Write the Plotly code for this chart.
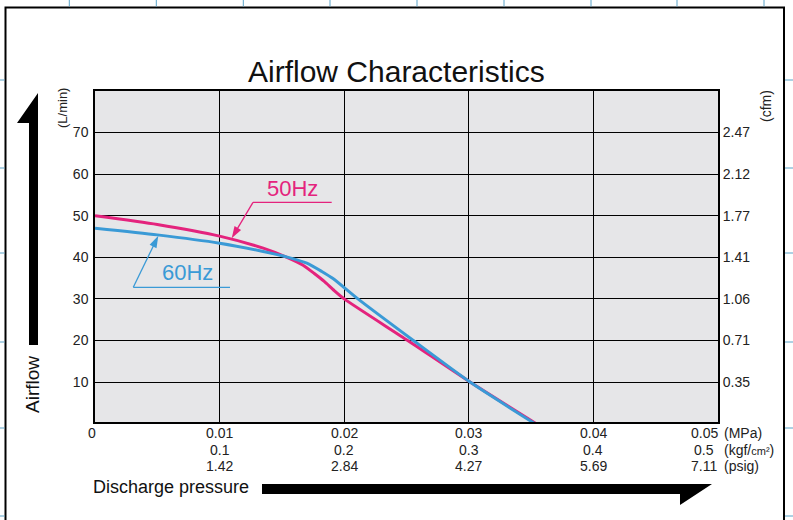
import math
import plotly.graph_objects as go

# ---------------- data ----------------
pressure_50 = [0, 0.005, 0.0100, 0.0135, 0.0154, 0.0167, 0.0176, 0.0184, 0.0192, 0.0200, 0.0251, 0.0301, 0.0354]
airflow_50 = [50.0, 47.9, 45.1, 42.2, 40.0, 38.1, 36.1, 34.2, 32.0, 30.0, 20.0, 10.0, 0.0]

pressure_60 = [0, 0.005, 0.0100, 0.0135, 0.0155, 0.0170, 0.0182, 0.0191, 0.0211, 0.02555, 0.0301, 0.0353]
airflow_60 = [47.0, 45.4, 43.4, 41.4, 40.0, 38.6, 36.6, 34.9, 30.0, 20.0, 10.0, 0.0]

y_ticks = [10, 20, 30, 40, 50, 60, 70]
cfm_labels = ["0.35", "0.71", "1.06", "1.41", "1.77", "2.12", "2.47"]

x_ticks = [0, 0.01, 0.02, 0.03, 0.04, 0.05]
mpa_labels = ["0", "0.01", "0.02", "0.03", "0.04", "0.05"]
kgf_labels = ["", "0.1", "0.2", "0.3", "0.4", "0.5"]
psig_labels = ["", "1.42", "2.84", "4.27", "5.69", "7.11"]

PINK = "#e4237d"
BLUE = "#3a9ad6"
FONT = "Liberation Sans, Arial, sans-serif"

W, H = 793, 520
L, R, T, B = 95, 75, 91, 98
PW, PH = W - L - R, H - T - B


def px(x):
    return (x - L) / PW


def py(y):
    return (H - B - y) / PH


fig = go.Figure()
fig.add_trace(go.Scatter(x=pressure_50, y=airflow_50, mode="lines",
                         line=dict(color=PINK, width=3, shape="spline", smoothing=0.6),
                         hoverinfo="skip", showlegend=False))
fig.add_trace(go.Scatter(x=pressure_60, y=airflow_60, mode="lines",
                         line=dict(color=BLUE, width=3, shape="spline", smoothing=0.6),
                         hoverinfo="skip", showlegend=False))
fig.add_trace(go.Scatter(x=[0], y=[None], yaxis="y2", mode="lines",
                         hoverinfo="skip", showlegend=False))

annotations = []

# bottom labels
rows = [(mpa_labels, 433), (kgf_labels, 450), (psig_labels, 466)]
for labels, ypix in rows:
    for xv, lab in zip(x_ticks, labels):
        if not lab:
            continue
        shift = 0
        if xv == 0:
            shift = -3
        elif xv == 0.05:
            shift = -14
        annotations.append(dict(x=xv, xref="x", y=py(ypix), yref="paper", text=lab,
                                showarrow=False, xanchor="center", yanchor="middle",
                                xshift=shift, font=dict(size=14, color="#222", family=FONT)))

units = [("(MPa)", 433), ("(kgf/<span style='font-size:11px'>cm²</span>)", 450), ("(psig)", 466)]
for txt, ypix in units:
    annotations.append(dict(x=px(722), xref="paper", y=py(ypix), yref="paper", text=txt,
                            showarrow=False, xanchor="left", yanchor="middle",
                            font=dict(size=14, color="#222", family=FONT)))

# title
annotations.append(dict(x=px(396), xref="paper", y=py(72), yref="paper",
                        text="Airflow Characteristics", showarrow=False,
                        xanchor="center", yanchor="middle",
                        font=dict(size=30, color="#111", family=FONT)))

# axis titles
annotations.append(dict(x=px(91), xref="paper", y=py(487), yref="paper",
                        text="Discharge pressure", showarrow=False,
                        xanchor="left", yanchor="middle",
                        font=dict(size=18, color="#111", family=FONT)))
annotations.append(dict(x=px(32), xref="paper", y=py(385), yref="paper",
                        text="Airflow", showarrow=False, textangle=-90,
                        xanchor="center", yanchor="middle",
                        font=dict(size=19, color="#111", family=FONT)))
annotations.append(dict(x=px(62), xref="paper", y=py(108), yref="paper",
                        text="(L/min)", showarrow=False, textangle=-90,
                        xanchor="center", yanchor="middle",
                        font=dict(size=13, color="#222", family=FONT)))
annotations.append(dict(x=px(766), xref="paper", y=py(106), yref="paper",
                        text="(cfm)", showarrow=False, textangle=-90,
                        xanchor="center", yanchor="middle",
                        font=dict(size=14, color="#222", family=FONT)))

# series labels
annotations.append(dict(x=px(292), xref="paper", y=py(188), yref="paper",
                        text="50Hz", showarrow=False, xanchor="center", yanchor="middle",
                        font=dict(size=22, color=PINK, family=FONT)))
annotations.append(dict(x=px(187), xref="paper", y=py(272), yref="paper",
                        text="60Hz", showarrow=False, xanchor="center", yanchor="middle",
                        font=dict(size=22, color=BLUE, family=FONT)))


def path(points):
    return "M " + " L ".join(f"{px(a):.5f},{py(b):.5f}" for a, b in points) + " Z"


shapes = []


def leader(h0, h1, elbow, tip, color):
    shapes.append(dict(type="line", xref="paper", yref="paper", x0=px(h0[0]), x1=px(h1[0]),
                       y0=py(h0[1]), y1=py(h1[1]), line=dict(color=color, width=1.3)))
    dx, dy = tip[0] - elbow[0], tip[1] - elbow[1]
    n = math.hypot(dx, dy)
    ux, uy = dx / n, dy / n
    hl, hw = 12.0, 3.8
    bx, by = tip[0] - hl * ux, tip[1] - hl * uy
    shapes.append(dict(type="line", xref="paper", yref="paper", x0=px(elbow[0]), x1=px(bx + 2 * ux),
                       y0=py(elbow[1]), y1=py(by + 2 * uy), line=dict(color=color, width=1.3)))
    pts = [tip, (bx - hw * uy, by + hw * ux), (bx + hw * uy, by - hw * ux)]
    shapes.append(dict(type="path", xref="paper", yref="paper", path=path(pts),
                       fillcolor=color, line=dict(width=0)))


leader((253, 202.3), (331.7, 202.3), (253, 202.3), (231.7, 238.3), PINK)
leader((133.3, 287.3), (230, 287.3), (133.3, 287.3), (158.3, 235.7), BLUE)

# big arrows
shapes.append(dict(type="path", xref="paper", yref="paper",
                   path=path([(38, 93), (17, 123), (29, 123), (29, 345), (38, 345)]),
                   fillcolor="black", line=dict(width=0)))
shapes.append(dict(type="path", xref="paper", yref="paper",
                   path=path([(262, 484), (712, 484), (680, 505), (680, 494), (262, 494)]),
                   fillcolor="black", line=dict(width=0)))

# page frame
shapes.append(dict(type="rect", xref="paper", yref="paper", x0=px(5.5), x1=px(784),
                   y0=py(7.5), y1=py(560), line=dict(color="black", width=2)))
GB = "#5aa3c8"
for xm in [69.3, 156.3, 243.3, 330, 417, 504, 591, 677, 764]:
    shapes.append(dict(type="line", xref="paper", yref="paper", x0=px(xm), x1=px(xm),
                       y0=py(0), y1=py(6.5), line=dict(color=GB, width=1)))
for ym in [80, 168, 253, 342, 428, 516]:
    shapes.append(dict(type="line", xref="paper", yref="paper", x0=px(0), x1=px(4.5),
                       y0=py(ym), y1=py(ym), line=dict(color=GB, width=1)))
    shapes.append(dict(type="line", xref="paper", yref="paper", x0=px(785), x1=px(793),
                       y0=py(ym), y1=py(ym), line=dict(color=GB, width=1)))

fig.update_layout(
    width=W, height=H, autosize=False,
    margin=dict(l=L, r=R, t=T, b=B, pad=0),
    paper_bgcolor="white", plot_bgcolor="#e6e6e8",
    font=dict(family=FONT, size=14, color="#222"),
    xaxis=dict(range=[0, 0.05], tickvals=[0.01, 0.02, 0.03, 0.04], showticklabels=False,
               showgrid=True, gridcolor="black", gridwidth=1.2, zeroline=False,
               showline=True, linecolor="black", linewidth=1.5, mirror=True, ticks=""),
    yaxis=dict(range=[0.4, 80], tickvals=y_ticks, ticktext=[str(v) for v in y_ticks],
               showgrid=True, gridcolor="black", gridwidth=1.2, zeroline=False,
               showline=True, linecolor="black", linewidth=1.5, mirror=True,
               ticks="outside", ticklen=2, tickcolor="rgba(0,0,0,0)",
               tickfont=dict(size=14, color="#222", family=FONT)),
    yaxis2=dict(range=[0.4, 80], overlaying="y", side="right", tickvals=y_ticks,
                ticktext=cfm_labels, showgrid=False, zeroline=False, showline=False,
                ticks="outside", ticklen=1, tickcolor="rgba(0,0,0,0)",
                tickfont=dict(size=14, color="#222", family=FONT)),
    annotations=annotations, shapes=shapes, showlegend=False,
)

fig.write_html("out.html")
